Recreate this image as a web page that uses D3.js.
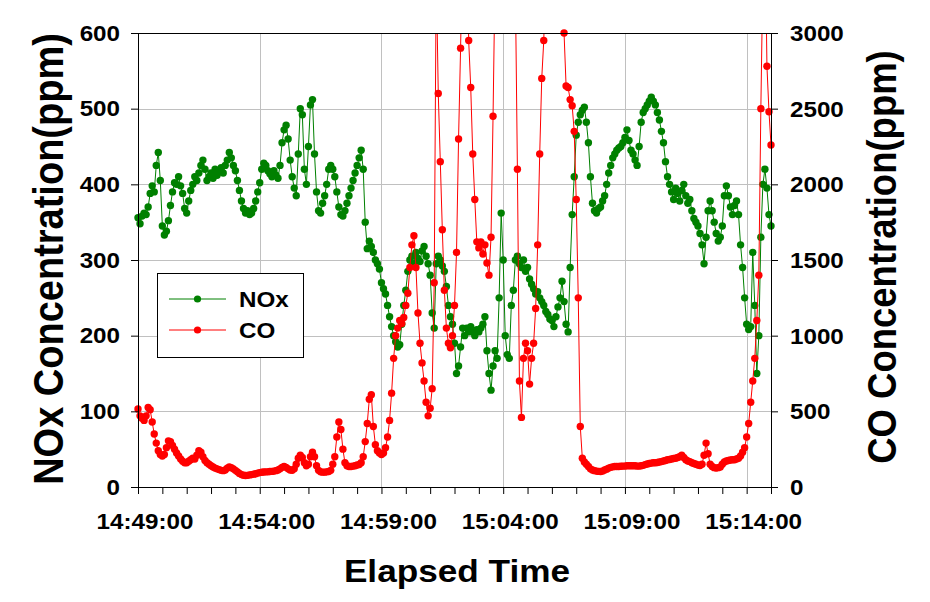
<!DOCTYPE html>
<html><head><meta charset="utf-8">
<script src="https://cdn.jsdelivr.net/npm/d3@7"></script>
<style>
body{margin:0;background:#fff}
svg{display:block}
text{font-family:"Liberation Sans",Arial,sans-serif;font-weight:bold;fill:#000}
</style>
</head><body>
<svg id="c" width="930" height="602"></svg>
<script>
// ---------- data ----------
const startTime = "14:49:00";
const endTime = "15:15:00";
const stepSeconds = 5;
const seriesNames = ["NOx", "CO"];
const xTickLabels = ["14:49:00","14:54:00","14:59:00","15:04:00","15:09:00","15:14:00"];
const noxTicks = [0,100,200,300,400,500,600];
const coTicks = [0,500,1000,1500,2000,2500,3000];

// NOx (ppm), one sample every 5 s, one row per minute
const noxValues = [
356,348,358,362,360,370,388,398,390,425,442,405,
345,333,338,352,372,390,402,400,410,398,388,368,
362,378,392,400,410,405,415,425,432,420,405,410,
415,408,420,412,418,422,415,425,432,442,435,425,
418,405,392,378,368,362,365,360,362,368,378,390,
402,420,428,425,418,414,410,418,412,408,425,455,
472,478,460,432,410,395,385,440,500,492,420,400,
450,505,512,440,390,365,362,375,385,400,420,425,
420,410,390,370,360,358,365,375,385,395,405,415,
425,435,445,420,350,315,325,318,310,300,295,288,
270,262,255,240,225,212,200,192,185,188,215,240,
260,285,300,305,295,310,302,298,312,318,305,295,
280,230,210,295,305,300,292,285,265,240,225,215,
190,150,160,185,210,200,210,205,212,205,200,208,
205,210,215,225,180,150,128,160,180,170,250,362,
300,200,175,170,240,260,300,305,295,290,300,285,
290,275,268,262,255,258,250,245,240,232,228,222,
220,212,225,238,250,272,245,215,205,290,360,410,
465,482,492,498,502,482,455,410,375,365,362,368,
370,378,385,400,415,425,435,440,445,448,450,455,
462,472,458,445,440,432,425,450,482,495,500,505,
510,515,510,505,495,485,470,455,430,410,400,390,
380,395,388,378,392,400,385,375,380,365,355,350,
345,335,320,295,330,365,378,365,350,335,325,330,
345,385,398,385,370,360,372,378,360,320,290,250,
215,208,212,310,240,150,200,330,400,420,395,360,345
];

// CO (ppm), one sample every 5 s, one row per minute
const coValues = [
515,470,455,440,470,525,510,430,350,290,240,215,
205,215,260,305,300,275,250,225,205,185,170,160,
160,170,180,190,185,210,240,230,200,175,160,150,
140,132,125,120,115,110,108,112,125,132,128,120,
110,100,90,82,78,76,77,80,82,85,88,92,
95,97,99,100,100,102,103,105,108,112,120,130,
135,130,120,112,110,120,150,190,210,195,160,140,
150,200,230,200,140,110,100,98,98,100,102,110,
150,200,330,430,380,250,160,140,135,135,138,140,
145,148,160,200,300,420,580,610,400,280,240,225,
215,225,260,330,440,620,850,1000,1050,1100,1080,1120,
1200,1280,1450,1600,1660,1450,1150,950,820,700,560,470,
520,650,1350,3400,2600,2150,1700,1300,1050,950,920,1000,
1200,1550,2300,2900,3600,4000,3800,2950,2640,2200,1900,1620,
1580,1620,1540,1600,1480,1400,1650,2450,3400,4000,4000,4000,
4000,4000,4000,4000,4000,4000,3300,2100,700,460,850,950,
900,680,850,950,1180,1600,2200,2700,2950,3500,4000,4000,
4000,4000,4000,4000,3800,3400,3000,2650,2640,2560,2520,2350,
1900,1250,400,190,165,150,135,120,112,108,105,103,
102,105,112,118,125,130,133,135,135,135,137,138,
138,140,140,140,140,140,138,138,140,143,148,152,
155,158,160,160,162,165,168,172,175,180,182,185,
188,190,195,200,210,195,180,172,168,160,155,150,
145,142,150,210,290,220,150,135,128,125,128,132,
150,165,172,175,178,180,180,185,190,205,230,260,
330,420,560,700,850,1100,1400,2500,3400,3800,2780,2480,2260
];

// ---------- layout ----------
const L = 138, R = 771, T = 33, B = 487;
const GREEN = "#008000", RED = "#ff0000";
const SX = 1.1; // horizontal stretch of the reference lettering

const svg = d3.select("#c");
const parse = d3.timeParse("%H:%M:%S");
const t0 = parse(startTime), t1 = parse(endTime);
const timeAt = i => new Date(t0.getTime() + i * stepSeconds * 1000);

const x = d3.scaleTime().domain([t0, t1]).range([L, R]);
const yN = d3.scaleLinear().domain([noxTicks[0], noxTicks[noxTicks.length-1]]).range([B, T]);
const yC = d3.scaleLinear().domain([coTicks[0], coTicks[coTicks.length-1]]).range([B, T]);

const majorTimes = xTickLabels.map(parse);
const minorTimes = d3.timeMinute.range(t0, new Date(t1.getTime() + 1000));

// clip paths
const defs = svg.append("defs");
defs.append("clipPath").attr("id","clipLine").append("rect")
  .attr("x", L).attr("y", T).attr("width", R - L).attr("height", B - T);
defs.append("clipPath").attr("id","clipDot").append("rect")
  .attr("x", L - 5).attr("y", T - 5).attr("width", R - L + 10).attr("height", B - T + 10);

// gridlines
const grid = svg.append("g").attr("stroke", "#c0c0c0").attr("stroke-width", 1);
noxTicks.slice(1, -1).forEach(v => {
  grid.append("line").attr("x1", L).attr("x2", R)
    .attr("y1", Math.round(yN(v)) + 0.5).attr("y2", Math.round(yN(v)) + 0.5);
});
majorTimes.slice(1).forEach(t => {
  grid.append("line").attr("y1", T).attr("y2", B)
    .attr("x1", Math.round(x(t)) + 0.5).attr("x2", Math.round(x(t)) + 0.5);
});

// series
const nox = noxValues.map((v, i) => ({t: timeAt(i), v}));
const co = coValues.map((v, i) => ({t: timeAt(i), v}));

function drawSeries(data, y, color) {
  const g = svg.append("g");
  g.append("path").datum(data)
    .attr("clip-path", "url(#clipLine)")
    .attr("fill", "none").attr("stroke", color).attr("stroke-width", 1)
    .attr("d", d3.line().x(d => x(d.t)).y(d => y(d.v)));
  g.append("g").attr("clip-path", "url(#clipDot)")
    .selectAll("circle").data(data).join("circle")
    .attr("cx", d => x(d.t)).attr("cy", d => y(d.v)).attr("r", 3.7)
    .attr("fill", color);
}
drawSeries(nox, yN, GREEN);
drawSeries(co, yC, RED);

// frame + axes
svg.append("line").attr("x1", L).attr("x2", R).attr("y1", T + 0.5).attr("y2", T + 0.5)
  .attr("stroke", "#000");

const axB = svg.append("g").attr("transform", `translate(0,${B})`)
  .call(d3.axisBottom(x).tickValues(minorTimes).tickSize(7).tickSizeOuter(0).tickFormat(""));
const axL = svg.append("g").attr("transform", `translate(${L},0)`)
  .call(d3.axisLeft(yN).tickValues(noxTicks).tickSize(7).tickSizeOuter(0).tickFormat(""));
const axR = svg.append("g").attr("transform", `translate(${R},0)`)
  .call(d3.axisRight(yC).tickValues(coTicks).tickSize(7).tickSizeOuter(0).tickFormat(""));
[axB, axL, axR].forEach(a => a.selectAll("path,line").attr("stroke", "#000").attr("stroke-width", 1));

// tick labels
function stretchedText(px, py, str, size, anchor) {
  svg.append("text")
    .attr("transform", `translate(${px},${py}) scale(${SX},1)`)
    .attr("text-anchor", anchor).attr("font-size", size).text(str);
}
majorTimes.forEach((t, i) => stretchedText(x(t) + 7, 529, xTickLabels[i], 22, "middle"));
noxTicks.forEach(v => stretchedText(120, yN(v) + 7.5, String(v), 22, "end"));
coTicks.forEach(v => stretchedText(790, yC(v) + 8, String(v), 22, "start"));

// axis titles
svg.append("g").attr("transform", `translate(63,259) scale(${SX},1) rotate(-90)`)
  .append("text").attr("text-anchor", "middle").attr("font-size", 38)
  .text("NOx Concentration(ppm)");
svg.append("g").attr("transform", `translate(896,257) scale(${SX},1) rotate(-90)`)
  .append("text").attr("text-anchor", "middle").attr("font-size", 36.5)
  .text("CO Concentration(ppm)");
stretchedText(457, 582, "Elapsed Time", 32, "middle");

// legend
const lg = svg.append("g");
lg.append("rect").attr("x", 157.5).attr("y", 273.5).attr("width", 146).attr("height", 84)
  .attr("fill", "#fff").attr("stroke", "#000").attr("stroke-width", 1);
[[GREEN, 299, 307], [RED, 330, 338]].forEach(([c, ly, ty], i) => {
  lg.append("line").attr("x1", 169).attr("x2", 226).attr("y1", ly).attr("y2", ly)
    .attr("stroke", c).attr("stroke-width", 1);
  lg.append("circle").attr("cx", 197.5).attr("cy", ly).attr("r", 3.6).attr("fill", c);
  lg.append("text").attr("transform", `translate(239,${ty}) scale(${SX},1)`)
    .attr("font-size", 22).text(seriesNames[i]);
});
</script>
</body></html>
